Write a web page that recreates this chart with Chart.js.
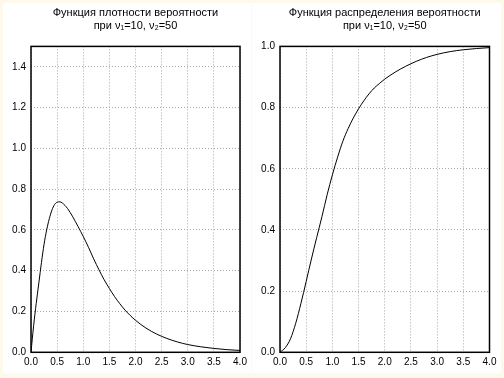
<!DOCTYPE html>
<html>
<head>
<meta charset="utf-8">
<script src="https://cdn.jsdelivr.net/npm/chart.js@4.4.1/dist/chart.umd.min.js"></script>
<style>
html, body { margin: 0; padding: 0; }
body { width: 504px; height: 378px; background: #fff9ec; position: relative; overflow: hidden; }
.panel { position: absolute; top: 3px; height: 370px; background: #fff; }
#p1 { left: 3px; width: 248px; }
#p2 { left: 252px; width: 249px; }
canvas { position: absolute; top: 0; }
#c1 { left: 0; }
#c2 { left: 252px; }
</style>
</head>
<body>
<div class="panel" id="p1"></div>
<div class="panel" id="p2"></div>
<canvas id="c1" width="252" height="378"></canvas>
<canvas id="c2" width="252" height="378"></canvas>
<script>
// values
const pdfX = [0, 0.05, 0.1, 0.15, 0.2, 0.25, 0.3, 0.35, 0.4, 0.45, 0.5, 0.55, 0.6, 0.7, 0.8, 0.9, 1.0, 1.1, 1.2, 1.3, 1.4, 1.5, 1.6, 1.8, 2.0, 2.2, 2.4, 2.6, 2.8, 3.0, 3.25, 3.5, 3.75, 4.0];
const pdfY = [0, 0.13, 0.24, 0.34, 0.44, 0.53, 0.60, 0.655, 0.697, 0.724, 0.736, 0.738, 0.732, 0.705, 0.664, 0.617, 0.568, 0.515, 0.458, 0.405, 0.356, 0.313, 0.273, 0.207, 0.157, 0.119, 0.09, 0.068, 0.051, 0.038, 0.027, 0.019, 0.013, 0.009];

const cdfX = [0, 0.1, 0.2, 0.3, 0.4, 0.5, 0.6, 0.7, 0.8, 0.9, 1.0, 1.1, 1.2, 1.3, 1.4, 1.5, 1.6, 1.7, 1.8, 1.9, 2.0, 2.2, 2.4, 2.6, 2.8, 3.0, 3.25, 3.5, 3.75, 4.0];
const cdfY = [0, 0.015, 0.044, 0.095, 0.16, 0.232, 0.305, 0.375, 0.443, 0.515, 0.58, 0.638, 0.69, 0.731, 0.766, 0.796, 0.822, 0.845, 0.864, 0.879, 0.893, 0.916, 0.935, 0.951, 0.964, 0.974, 0.983, 0.989, 0.993, 0.996];

const xTicks = [0, 0.5, 1, 1.5, 2, 2.5, 3, 3.5, 4];
const pdfTicks = [0, 0.2, 0.4, 0.6, 0.8, 1.0, 1.2, 1.4];
const cdfTicks = [0, 0.2, 0.4, 0.6, 0.8, 1.0];

const pdfTitle = ['Функция плотности вероятности', 'при ν₁=10, ν₂=50'];
const cdfTitle = ['Функция распределения вероятности', 'при ν₁=10, ν₂=50'];

Chart.defaults.font.family = '"Liberation Sans", Arial, sans-serif';
Chart.defaults.color = '#000';

// black frame round the plot area
const boxPlugin = {
	id: 'box',
	afterDatasetsDraw(chart) {
		const a = chart.chartArea;
		const ctx = chart.ctx;
		ctx.save();
		ctx.strokeStyle = '#000';
		ctx.lineWidth = 1.5;
		ctx.strokeRect(a.left, a.top, a.right - a.left, a.bottom - a.top);
		ctx.restore();
	}
};

function makeChart(id, xs, ys, yMax, yTicks, title, yWidth, padRight) {
	let points = xs.map((x, i) => ({x: x, y: ys[i]}));
	return new Chart(document.getElementById(id), {
		type: 'line',
		data: {
			datasets: [{
				data: points,
				borderColor: '#000',
				borderWidth: 1,
				pointRadius: 0,
				cubicInterpolationMode: 'monotone',
				fill: false
			}]
		},
		options: {
			responsive: false,
			animation: false,
			devicePixelRatio: 1,
			layout: { padding: { left: 0, right: padRight, top: 0, bottom: 0 } },
			plugins: {
				legend: { display: false },
				tooltip: { enabled: false },
				title: {
					display: true,
					text: title,
					fullSize: false,
					color: '#000',
					font: { size: 11, weight: 'normal', lineHeight: 1.2 },
					padding: { top: 6, bottom: 14 }
				}
			},
			scales: {
				x: {
					type: 'linear',
					min: 0,
					max: 4,
					afterBuildTicks: s => { s.ticks = xTicks.map(v => ({value: v})); },
					afterFit: s => { s.height = 25.7; },
					grid: { color: '#a8a8a8', lineWidth: 1, drawTicks: false },
					border: { display: false, dash: [1, 2] },
					ticks: { padding: 4, font: { size: 10 }, callback: v => v.toFixed(1), maxRotation: 0 }
				},
				y: {
					min: 0,
					max: yMax,
					afterBuildTicks: s => { s.ticks = yTicks.map(v => ({value: v})); },
					afterFit: s => { s.width = yWidth; },
					grid: { color: '#a8a8a8', lineWidth: 1, drawTicks: false },
					border: { display: false, dash: [1, 2] },
					ticks: { padding: 5, font: { size: 10 }, callback: v => v.toFixed(1) }
				}
			}
		},
		plugins: [boxPlugin]
	});
}

makeChart('c1', pdfX, pdfY, 1.5, pdfTicks, pdfTitle, 31, 12);
makeChart('c2', cdfX, cdfY, 1.0, cdfTicks, cdfTitle, 28, 14.5);
</script>
</body>
</html>
